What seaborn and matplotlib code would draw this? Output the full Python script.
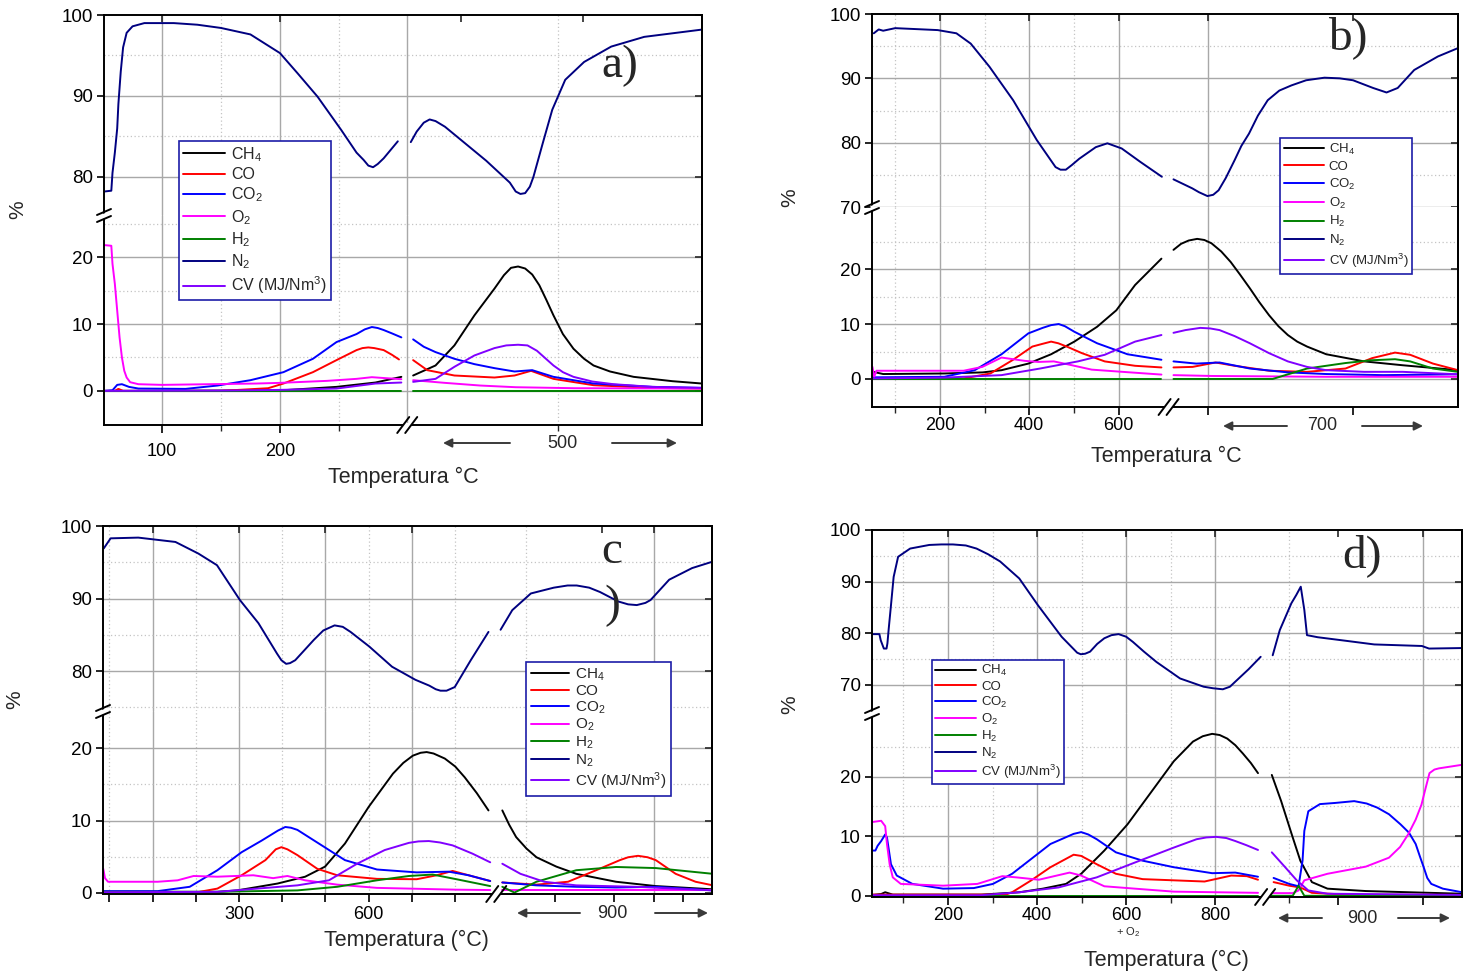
import numpy as np
import pandas as pd
import matplotlib
matplotlib.use("Agg")
import matplotlib.pyplot as plt
import seaborn as sns
from matplotlib.lines import Line2D
from matplotlib.patches import Polygon

# ---------------- data ----------------
SERIES = ["CH4", "CO", "CO2", "O2", "H2", "N2", "CV"]
LABELS = ["CH$_4$", "CO", "CO$_2$", "O$_2$", "H$_2$", "N$_2$", "CV (MJ/Nm$^3$)"]
COLORS = ["#000000", "#ff0000", "#0000ff", "#ff00ff", "#008000", "#000080", "#8000ff"]

# panel a
A_CH4_X = [51, 150, 203, 248, 281, 303, 313, 332, 348, 365, 382, 390, 396, 402, 408, 414, 420, 426, 432, 440, 449, 458, 466, 480, 500, 533, 558]
A_CH4_Y = [0.0, 0.05, 0.1, 0.6, 1.25, 2.1, 2.3, 3.8, 6.8, 11.3, 15.3, 17.3, 18.4, 18.6, 18.3, 17.4, 15.8, 13.6, 11.3, 8.5, 6.3, 4.8, 3.8, 2.9, 2.1, 1.45, 1.1]
A_CO_X = [51, 60, 63, 67, 150, 190, 203, 228, 248, 265, 270, 275, 280, 288, 295, 301, 313, 325, 348, 382, 399, 413, 432, 466, 516, 558]
A_CO_Y = [0.0, 0.0, 0.3, 0.0, 0.0, 0.4, 1.1, 2.8, 4.6, 6.1, 6.4, 6.5, 6.4, 6.1, 5.4, 4.7, 4.6, 3.1, 2.3, 2.0, 2.3, 3.0, 1.8, 0.85, 0.45, 0.35]
A_CO2_X = [51, 58, 62, 66, 72, 80, 120, 147, 175, 203, 228, 248, 265, 272, 278, 283, 288, 295, 303, 313, 322, 332, 348, 365, 382, 399, 414, 432, 466, 516, 558]
A_CO2_Y = [0.0, 0.1, 0.9, 1.0, 0.6, 0.35, 0.3, 0.8, 1.6, 2.8, 4.8, 7.3, 8.5, 9.2, 9.55, 9.4, 9.1, 8.6, 8.0, 7.7, 6.6, 5.8, 4.8, 4.0, 3.4, 2.9, 3.1, 2.1, 1.1, 0.6, 0.45]
A_O2_X = [51, 57, 58, 60, 62, 64, 66, 68, 70, 73, 80, 100, 140, 180, 200, 240, 265, 278, 290, 303, 313, 340, 370, 400, 450, 558]
A_O2_Y = [21.8, 21.7, 19.0, 16.0, 12.0, 8.0, 5.0, 3.0, 2.0, 1.3, 1.0, 0.9, 1.0, 1.1, 1.2, 1.5, 1.8, 2.05, 1.9, 1.75, 1.6, 1.2, 0.8, 0.55, 0.4, 0.35]
A_H2_X = [51, 303, 313, 558]
A_H2_Y = [0.0, 0.0, 0.0, 0.0]
A_N2_X = [51, 57, 58, 60, 62, 63, 65, 67, 70, 75, 85, 110, 130, 150, 175, 200, 215, 232, 252, 265,
          271, 275, 279, 283, 288, 300, 311, 316, 322, 327, 332, 340, 350, 375, 395, 400, 404, 408, 412, 415,
          423, 431, 442, 458, 481, 509, 558]
A_N2_Y = [78.2, 78.3, 80.5, 83.0, 86.0, 89.0, 93.0, 96.0, 97.8, 98.6, 99.0, 99.0, 98.8, 98.4, 97.6, 95.3, 92.8, 89.9, 85.8, 83.0,
          82.1, 81.4, 81.2, 81.6, 82.3, 84.4, 84.3, 85.6, 86.7, 87.1, 86.9, 86.2, 85.0, 82.0, 79.3, 78.2, 77.9, 78.0, 78.8, 80.0,
          84.2, 88.3, 92.0, 94.2, 96.1, 97.3, 98.2]
A_CV_X = [51, 150, 200, 248, 281, 303, 313, 332, 348, 365, 382, 392, 402, 410, 418, 425, 432, 440, 449, 465, 483, 516, 558]
A_CV_Y = [0.0, 0.05, 0.15, 0.35, 1.1, 1.25, 1.35, 1.8, 3.6, 5.3, 6.4, 6.8, 6.9, 6.8, 6.0, 4.9, 3.8, 2.8, 2.1, 1.4, 1.0, 0.6, 0.45]

# panel b
B_CH4_X = [49, 73, 210, 296, 338, 398, 449, 501, 552, 595, 637, 696, 723, 740, 757, 776, 792, 808, 830, 851,
           872, 894, 915, 937, 958, 979, 1000, 1022, 1065, 1150, 1236, 1360]
B_CH4_Y = [1.33, 0.9, 1.0, 1.2, 1.6, 2.8, 4.5, 6.8, 9.5, 12.5, 17.1, 21.9, 23.5, 24.6, 25.2, 25.5, 25.3, 24.7, 23.2, 21.3,
           19.0, 16.5, 14.0, 11.6, 9.6, 8.0, 6.8, 5.9, 4.5, 3.2, 2.5, 1.6]
B_CO_X = [49, 253, 313, 364, 407, 430, 449, 465, 484, 518, 569, 637, 696, 723, 766, 817, 860, 937, 1022, 1108, 1168, 1219, 1253, 1304, 1360]
B_CO_Y = [0.1, 0.1, 1.0, 3.5, 5.9, 6.4, 6.8, 6.5, 5.9, 4.7, 3.2, 2.4, 2.1, 2.1, 2.2, 3.0, 2.4, 1.5, 1.3, 1.9, 3.8, 4.8, 4.4, 2.8, 1.6]
B_CO2_X = [49, 210, 278, 338, 398, 430, 449, 466, 480, 501, 552, 620, 696, 723, 774, 826, 894, 979, 1065, 1193, 1360]
B_CO2_Y = [0.3, 0.4, 1.6, 4.5, 8.3, 9.3, 9.8, 10.0, 9.6, 8.6, 6.5, 4.5, 3.5, 3.2, 2.8, 3.0, 1.9, 1.2, 0.9, 0.7, 0.85]
B_O2_X = [49, 53, 58, 253, 295, 338, 390, 420, 455, 490, 540, 600, 696, 723, 808, 1065, 1360]
B_O2_Y = [2.2, 0.4, 1.5, 1.5, 2.2, 3.9, 3.3, 3.1, 3.2, 2.6, 1.7, 1.35, 0.8, 0.7, 0.55, 0.4, 0.4]
B_H2_X = [49, 696, 723, 945, 1022, 1108, 1165, 1219, 1253, 1304, 1360]
B_H2_Y = [0.0, 0.0, 0.0, 0.0, 1.9, 2.9, 3.4, 3.6, 3.2, 1.9, 1.3]
B_N2_X = [52, 63, 73, 100, 195, 237, 269, 311, 364, 417, 459, 470, 482, 495, 512, 549, 575, 607, 649, 697,
          723, 765, 780, 799, 812, 824, 840, 860, 875, 892, 912, 934, 960, 987, 1020, 1061, 1095, 1125, 1170, 1200,
          1225, 1262, 1315, 1360]
B_N2_Y = [97.0, 97.6, 97.4, 97.8, 97.5, 97.0, 95.4, 91.8, 86.6, 80.4, 76.2, 75.8, 75.8, 76.5, 77.5, 79.3, 79.9, 79.1, 77.0, 74.7,
          74.3, 72.9, 72.3, 71.7, 71.9, 72.6, 74.5, 77.3, 79.5, 81.4, 84.2, 86.6, 88.1, 88.9, 89.7, 90.1, 90.0, 89.7, 88.5, 87.8,
          88.5, 91.3, 93.4, 94.7]
B_CV_X = [49, 210, 338, 424, 509, 569, 637, 696, 723, 750, 783, 805, 826, 860, 894, 937, 979, 1022, 1065, 1150, 1236, 1360]
B_CV_Y = [0.1, 0.25, 0.7, 1.9, 3.2, 4.4, 6.8, 8.0, 8.4, 8.9, 9.3, 9.2, 8.9, 7.8, 6.5, 4.7, 3.2, 2.2, 1.6, 1.3, 1.3, 0.85]

# panel c
C_CH4_X = [-13, 250, 296, 389, 453, 499, 545, 600, 656, 680, 702, 720, 734, 750, 776, 800, 822, 850, 877, 909,
           925, 941, 965, 988, 1034, 1080, 1172, 1264, 1396]
C_CH4_Y = [0.1, 0.1, 0.3, 1.25, 2.2, 3.6, 6.8, 11.9, 16.5, 18.0, 19.0, 19.4, 19.5, 19.3, 18.6, 17.5, 16.0, 13.8, 11.4, 11.4,
           9.4, 7.7, 6.1, 4.9, 3.6, 2.6, 1.5, 0.9, 0.45]
C_CO_X = [-13, 204, 250, 306, 361, 385, 398, 412, 435, 481, 527, 619, 711, 757, 794, 831, 881, 909, 988, 1061,
          1126, 1181, 1200, 1223, 1245, 1264, 1310, 1356, 1396]
C_CO_Y = [0.05, 0.05, 0.55, 2.4, 4.5, 6.0, 6.3, 6.0, 5.2, 3.3, 2.4, 1.9, 1.85, 2.4, 3.0, 2.4, 1.6, 1.4, 1.1, 1.5,
          3.1, 4.5, 4.9, 5.1, 4.9, 4.5, 2.6, 1.5, 1.0]
C_CO2_X = [-13, 112, 186, 250, 306, 352, 390, 407, 420, 435, 490, 545, 619, 711, 785, 831, 881, 909, 988, 1080, 1172, 1264, 1396]
C_CO2_Y = [0.2, 0.2, 0.8, 3.1, 5.6, 7.2, 8.6, 9.1, 9.0, 8.7, 6.6, 4.5, 3.2, 2.8, 2.9, 2.4, 1.6, 1.4, 1.0, 0.8, 0.7, 0.8, 0.3]
C_O2_X = [-14, -10, -3, 112, 158, 195, 250, 333, 379, 412, 453, 527, 619, 803, 881, 909, 1396]
C_O2_Y = [3.3, 2.0, 1.5, 1.5, 1.7, 2.3, 2.2, 2.4, 2.0, 2.3, 1.7, 1.1, 0.65, 0.4, 0.35, 0.35, 0.35]
C_H2_X = [-13, 250, 435, 527, 619, 693, 748, 803, 881, 909, 937, 988, 1080, 1172, 1264, 1396]
C_H2_Y = [0.1, 0.1, 0.3, 0.8, 1.7, 2.3, 2.5, 1.85, 0.9, 0.8, 0.0, 1.5, 3.1, 3.55, 3.4, 2.6]
C_N2_X = [-13, 3, 67, 153, 206, 249, 302, 345, 388, 398, 409, 418, 430, 450, 473, 495, 521, 540, 558, 601,
          654, 708, 740, 755, 766, 780, 799, 836, 877, 905, 932, 975, 1028, 1060, 1081, 1110, 1135, 1177, 1200, 1220,
          1240, 1252, 1295, 1348, 1396]
C_N2_Y = [96.9, 98.3, 98.4, 97.8, 96.2, 94.6, 89.8, 86.6, 82.4, 81.5, 81.0, 81.1, 81.5, 82.8, 84.3, 85.6, 86.3, 86.1, 85.4, 83.4,
          80.6, 78.8, 78.0, 77.5, 77.3, 77.3, 77.8, 81.5, 85.4, 85.7, 88.4, 90.7, 91.5, 91.8, 91.8, 91.5, 90.9, 89.6, 89.2, 89.1,
          89.4, 89.8, 92.6, 94.2, 95.1]
C_CV_X = [-13, 250, 342, 435, 508, 573, 637, 693, 715, 739, 765, 794, 840, 881, 909, 951, 1006, 1080, 1218, 1396]
C_CV_Y = [0.05, 0.1, 0.55, 1.0, 1.7, 4.0, 5.9, 6.9, 7.1, 7.15, 6.95, 6.55, 5.4, 4.2, 4.0, 2.6, 1.5, 1.0, 0.8, 0.3]

# panel d
D_CH4_X = [31, 50, 59, 76, 275, 361, 413, 465, 499, 551, 603, 655, 707, 750, 772, 793, 810, 827, 845, 862,
           880, 896, 927, 948, 974, 991, 1017, 1052, 1138, 1354]
D_CH4_Y = [0.15, 0.3, 0.6, 0.2, 0.2, 0.6, 1.2, 2.0, 3.7, 7.6, 12.0, 17.3, 22.6, 25.9, 26.8, 27.2, 27.0, 26.4, 25.3, 23.9,
           22.3, 20.6, 20.3, 15.9, 9.8, 5.9, 2.3, 1.2, 0.8, 0.35]
D_CO_X = [31, 330, 344, 387, 430, 482, 499, 534, 577, 637, 707, 776, 836, 871, 896, 931, 966, 991, 1017, 1095, 1354]
D_CO_Y = [0.2, 0.2, 0.6, 2.6, 4.8, 6.9, 6.7, 5.3, 3.7, 2.8, 2.6, 2.4, 3.4, 3.3, 2.7, 2.3, 1.7, 1.4, 0.5, 0.2, 0.15]
D_CO2_X = [31, 37, 42, 50, 59, 63, 72, 85, 120, 189, 258, 301, 344, 387, 430, 482, 499, 515, 534, 577,
           637, 707, 793, 845, 896, 931, 966, 987, 996, 1000, 1009, 1035, 1070, 1112, 1140, 1164, 1190, 1216, 1235, 1250,
           1260, 1268, 1276, 1285, 1311, 1354]
D_CO2_Y = [7.6, 7.6, 8.4, 9.2, 10.3, 9.8, 5.3, 3.4, 2.0, 1.2, 1.3, 2.0, 3.7, 6.2, 8.7, 10.4, 10.7, 10.3, 9.5, 7.3,
           5.9, 4.8, 3.8, 3.9, 3.2, 3.0, 2.0, 1.6, 5.9, 10.9, 14.2, 15.4, 15.6, 15.9, 15.5, 14.8, 13.7, 12.0, 10.6, 8.7,
           6.5, 4.8, 3.0, 2.0, 1.2, 0.6]
D_O2_X = [31, 50, 59, 63, 69, 76, 94, 189, 266, 322, 353, 404, 473, 499, 551, 620, 707, 896, 931, 974,
          987, 1000, 1052, 1138, 1190, 1215, 1233, 1250, 1263, 1272, 1281, 1292, 1302, 1354]
D_O2_Y = [12.4, 12.6, 11.7, 8.7, 5.3, 3.1, 2.0, 1.7, 2.0, 3.3, 3.1, 2.7, 3.9, 3.4, 1.6, 1.2, 0.7, 0.5, 0.45, 0.45,
          0.9, 2.6, 3.7, 4.9, 6.4, 8.2, 10.3, 12.8, 15.3, 18.0, 20.6, 21.2, 21.4, 22.0]
D_H2_X = [31, 896, 927, 974, 987, 1000, 1354]
D_H2_Y = [0.0, 0.0, 0.0, 0.0, 1.7, 0.0, 0.0]
D_N2_X = [31, 46, 49, 56, 62, 64, 67, 72, 78, 88, 115, 158, 185, 211, 240, 264, 290, 317, 360, 402,
          455, 490, 498, 508, 519, 535, 551, 567, 583, 600, 615, 640, 668, 721, 774, 795, 817, 833, 849, 875,
          902, 929, 945, 971, 982, 992, 1000, 1006, 1030, 1094, 1157, 1264, 1280, 1354]
D_N2_Y = [79.8, 79.8, 78.6, 77.0, 77.0, 78.0, 80.9, 85.4, 90.9, 94.8, 96.4, 97.1, 97.2, 97.2, 97.0, 96.4, 95.3, 93.9, 90.6, 85.4,
          79.3, 76.2, 75.9, 76.0, 76.4, 77.9, 79.0, 79.6, 79.8, 79.3, 78.3, 76.4, 74.4, 71.2, 69.6, 69.3, 69.1, 69.6, 70.9, 73.0,
          75.4, 75.7, 80.6, 85.8, 87.4, 89.0, 84.5, 79.6, 79.2, 78.5, 77.8, 77.5, 77.0, 77.1]
D_CV_X = [31, 275, 361, 448, 534, 620, 707, 758, 780, 802, 825, 845, 870, 896, 927, 957, 983, 1009, 1052, 1354]
D_CV_Y = [0.1, 0.1, 0.6, 1.4, 3.1, 5.6, 8.1, 9.5, 9.8, 9.9, 9.7, 9.2, 8.5, 7.7, 7.3, 4.8, 2.6, 0.9, 0.35, 0.15]

# ---------------- style ----------------
sns.set_theme(style="ticks")
plt.rcParams["font.family"] = ["Liberation Sans", "DejaVu Sans"]
plt.rcParams["mathtext.fontset"] = "custom"
plt.rcParams["mathtext.rm"] = "Liberation Sans"
plt.rcParams["mathtext.it"] = "Liberation Sans:italic"
plt.rcParams["mathtext.default"] = "regular"

W, H = 1468, 972
fig = plt.figure(figsize=(W / 100, H / 100), dpi=100)
fig.patch.set_facecolor("white")

SOLID = dict(color="#a8a8a8", lw=1.0, zorder=0)
DOT = dict(color="#c4c4c4", lw=0.9, ls=(0, (1, 2)), zorder=0)


def fx(px):
    return px / W


def fy(py):
    return 1 - py / H


def make_df(pairs, brk):
    rows = []
    for name, (xs, ys) in zip(SERIES, pairs):
        for x, y in zip(xs, ys):
            rows.append((name, f"{name}_{int(x > brk)}", x, y))
    return pd.DataFrame(rows, columns=["series", "unit", "x", "y"])


def add_ax(l, t, r, b):
    return fig.add_axes([fx(l), fy(b), (r - l) / W, (b - t) / H])


def draw_panel(P):
    l, t, r, b = P["box"]
    by = P["brk_y"]
    ax_u = add_ax(l, t, r, by)
    ax_l = add_ax(l, by, r, b)
    df = make_df(P["data"], P["brk_x"])
    pal = dict(zip(SERIES, COLORS))
    for ax, ylim in ((ax_u, P["ylim_up"]), (ax_l, P["ylim_low"])):
        sns.lineplot(data=df, x="x", y="y", hue="series", units="unit", estimator=None,
                     palette=pal, hue_order=SERIES, legend=False, lw=1.4, ax=ax)
        ax.set_xlim(*P["xlim"])
        ax.set_ylim(*ylim)
        ax.set_xlabel("")
        ax.set_ylabel("")
        for v in P["xgrid"][0]:
            ax.axvline(v, **SOLID)
        for v in P["xgrid"][1]:
            ax.axvline(v, **DOT)
        for s in ax.spines.values():
            s.set_color("black")
            s.set_linewidth(1.4)
        ax.tick_params(axis="y", which="both", direction="out", length=5, width=1.2,
                       labelsize=13.5, colors="black", pad=3)
    for v in P["ygrid_up"][0]:
        ax_u.axhline(v, **SOLID)
    for v in P["ygrid_up"][1]:
        ax_u.axhline(v, **DOT)
    for v in P["ygrid_low"][0]:
        ax_l.axhline(v, **SOLID)
    for v in P["ygrid_low"][1]:
        ax_l.axhline(v, **DOT)
    ax_u.spines["bottom"].set_visible(False)
    ax_l.spines["top"].set_visible(False)
    ax_u.set_yticks(P["yt_up"])
    ax_l.set_yticks(P["yt_low"])
    ax_u.set_yticklabels([str(v) for v in P["yt_up"]])
    ax_l.set_yticklabels([str(v) for v in P["yt_low"]])
    ax_u.set_xticks(P["xtop"])
    ax_u.tick_params(axis="x", which="both", bottom=False, top=True, direction="in",
                     labelbottom=False, length=5, width=1.2)
    ax_l.set_xticks(P["xmaj"])
    ax_l.set_xticklabels(P["xlab"])
    ax_l.set_xticks(P["xmin"], minor=True)
    ax_l.tick_params(axis="x", which="major", direction="out", length=6, width=1.2,
                     labelsize=13, pad=P["xpad"], colors="black")
    ax_l.tick_params(axis="x", which="minor", direction="out", length=4, width=1.0)
    for ax in (ax_u, ax_l):
        sec = ax.secondary_yaxis("right")
        sec.set_yticks(ax.get_yticks())
        sec.tick_params(direction="in", length=5, width=1.2, labelright=False)
        sec.spines["right"].set_linewidth(1.4)
        sec.spines["right"].set_color("black")

    # legend
    handles = [Line2D([], [], color=c, lw=1.4) for c in COLORS]
    lg = P["legend"]
    leg = ax_l.legend(handles, LABELS, loc="upper left", bbox_to_anchor=(fx(lg["x"]), fy(lg["y"])),
                      bbox_transform=fig.transFigure, borderaxespad=0, frameon=True, fancybox=False,
                      framealpha=1, edgecolor="#1c1ca8", fontsize=lg["fs"], labelspacing=lg["ls"],
                      handlelength=lg["hl"], handletextpad=0.4, borderpad=lg["bp"])
    leg.get_frame().set_linewidth(1.2)
    leg.set_zorder(20)

    # break marks on the left spine
    for y0 in (by - 3, by + 4):
        fig.add_artist(Line2D([fx(l - 7), fx(l + 7)], [fy(y0 + 3), fy(y0 - 3)], color="black", lw=1.4, zorder=30))
    fig.add_artist(Polygon([(fx(l - 1.5), fy(by - 1)), (fx(l + 1.5), fy(by - 2)), (fx(l + 1.5), fy(by + 3)),
                            (fx(l - 1.5), fy(by + 4))], closed=True, facecolor="white", edgecolor="none", zorder=29))
    # break marks on the bottom spine
    bx = ax_l.transData.transform((P["brk_x"], 0))[0]
    for dx in (-4, 4):
        fig.add_artist(Line2D([fx(bx + dx - 6), fx(bx + dx + 6)], [fy(b + 8), fy(b - 8)], color="black", lw=1.4, zorder=30))
    fig.add_artist(Polygon([(fx(bx - 4), fy(b - 2)), (fx(bx + 4), fy(b - 2)), (fx(bx + 4), fy(b + 2)),
                            (fx(bx - 4), fy(b + 2))], closed=True, facecolor="white", edgecolor="none", zorder=29))

    # arrows and hold-temperature label
    ay = P["arrow_y"]
    for tail, head in P["arrows"]:
        ax_l.annotate("", xy=(head, H - ay), xytext=(tail, H - ay), xycoords="figure pixels",
                      textcoords="figure pixels",
                      arrowprops=dict(arrowstyle="-|>", color="#3a3a3a", lw=1.4, mutation_scale=13,
                                      shrinkA=0, shrinkB=0))
    fig.text(fx(P["hold_x"]), fy(ay), P["hold"], ha="center", va="center", fontsize=13)

    fig.text(fx(P["pct"][0]), fy(P["pct"][1]), "%", rotation=90, ha="center", va="center", fontsize=15)
    fig.text(fx(P["xl"][0]), fy(P["xl"][1]), P["xl_text"], ha="center", va="center", fontsize=15.5)
    for txt, (px_, py_) in P["letter"]:
        fig.text(fx(px_), fy(py_), txt, ha="center", va="center", fontsize=34,
                 family=["Liberation Serif", "DejaVu Serif"])
    return ax_u, ax_l


PANELS = [
    dict(box=(104, 15, 702, 425), brk_y=215, ylim_up=(75.3, 100), ylim_low=(-5.1, 26.3),
         xlim=(50.8, 558), brk_x=308,
         data=[(A_CH4_X, A_CH4_Y), (A_CO_X, A_CO_Y), (A_CO2_X, A_CO2_Y), (A_O2_X, A_O2_Y),
               (A_H2_X, A_H2_Y), (A_N2_X, A_N2_Y), (A_CV_X, A_CV_Y)],
         yt_up=[80, 90, 100], yt_low=[0, 10, 20],
         ygrid_up=([80, 90], [85, 95]), ygrid_low=([0, 10, 20], [5, 15, 25]),
         xgrid=([100, 200, 308], [150, 250, 436]),
         xtop=[100, 200, 354, 457], xmaj=[100, 200], xlab=["100", "200"], xmin=[150, 250, 436], xpad=7,
         legend=dict(x=179, y=141, fs=11.5, ls=0.22, hl=2.6, bp=0.25),
         arrows=[(510, 443), (612, 677)], arrow_y=443, hold="500", hold_x=562,
         pct=(18, 210), xl=(403, 477), xl_text="Temperatura °C", letter=[("a)", (620, 66))]),
    dict(box=(872, 14, 1458, 407), brk_y=207, ylim_up=(70, 100), ylim_low=(-5.1, 31.3),
         xlim=(48, 1360), brk_x=712,
         data=[(B_CH4_X, B_CH4_Y), (B_CO_X, B_CO_Y), (B_CO2_X, B_CO2_Y), (B_O2_X, B_O2_Y),
               (B_H2_X, B_H2_Y), (B_N2_X, B_N2_Y), (B_CV_X, B_CV_Y)],
         yt_up=[70, 80, 90, 100], yt_low=[0, 10, 20],
         ygrid_up=([70, 80, 90], [75, 85, 95]), ygrid_low=([0, 10, 20], [5, 15, 25]),
         xgrid=([200, 400, 600, 800], [100, 300, 500]),
         xtop=[200, 400, 600, 800, 1125], xmaj=[200, 400, 600, 800, 1125], xlab=["200", "400", "600", "", ""],
         xmin=[100, 300, 500], xpad=1.5,
         legend=dict(x=1280, y=138, fs=9.5, ls=0.28, hl=3.0, bp=0.3),
         arrows=[(1287, 1223), (1362, 1423)], arrow_y=426, hold="700", hold_x=1322,
         pct=(790, 198), xl=(1166, 456), xl_text="Temperatura °C", letter=[("b)", (1348, 38))]),
    dict(box=(103, 526, 712, 894), brk_y=711, ylim_up=(74.5, 100), ylim_low=(-0.2, 25.2),
         xlim=(-14.6, 1394), brk_x=895,
         data=[(C_CH4_X, C_CH4_Y), (C_CO_X, C_CO_Y), (C_CO2_X, C_CO2_Y), (C_O2_X, C_O2_Y),
               (C_H2_X, C_H2_Y), (C_N2_X, C_N2_Y), (C_CV_X, C_CV_Y)],
         yt_up=[80, 90, 100], yt_low=[0, 10, 20],
         ygrid_up=([80, 90], [75, 85, 95]), ygrid_low=([10, 20], [5, 15]),
         xgrid=([100, 300, 500, 700, 1261], [0, 200, 400, 600, 800, 964]),
         xtop=[100, 300, 500, 700, 1140, 1261],
         xmaj=[0, 100, 200, 300, 400, 500, 600, 700, 800, 1030, 1167, 1261, 1327],
         xlab=["", "", "", "300", "", "", "600", "", "", "", "", "", ""], xmin=[], xpad=2.5,
         legend=dict(x=526, y=662, fs=11, ls=0.08, hl=2.5, bp=0.3),
         arrows=[(580, 517), (655, 708)], arrow_y=913, hold="900", hold_x=612,
         pct=(15, 700), xl=(406, 940), xl_text="Temperatura (°C)",
         letter=[("c", (612, 552)), (")", (612, 606))]),
    dict(box=(872, 530, 1462, 897), brk_y=713, ylim_up=(64.5, 100), ylim_low=(-0.2, 30.7),
         xlim=(29.4, 1354), brk_x=912,
         data=[(D_CH4_X, D_CH4_Y), (D_CO_X, D_CO_Y), (D_CO2_X, D_CO2_Y), (D_O2_X, D_O2_Y),
               (D_H2_X, D_H2_Y), (D_N2_X, D_N2_Y), (D_CV_X, D_CV_Y)],
         yt_up=[70, 80, 90, 100], yt_low=[0, 10, 20],
         ygrid_up=([70, 80, 90], [75, 85, 95]), ygrid_low=([10, 20], [5, 15, 25]),
         xgrid=([200, 400, 600, 800, 1266], [100, 300, 500, 700, 965]),
         xtop=[200, 400, 600, 800, 1075, 1266], xmaj=[200, 400, 600, 800, 1075, 1266],
         xlab=["200", "400", "600", "800", "", ""], xmin=[100, 300, 500, 700, 965], xpad=1.5,
         legend=dict(x=932, y=660, fs=9.5, ls=0.15, hl=3.1, bp=0.25),
         arrows=[(1322, 1278), (1398, 1450)], arrow_y=918, hold="900", hold_x=1362,
         pct=(790, 705), xl=(1166, 960), xl_text="Temperatura (°C)", letter=[("d)", (1362, 556))]),
]

for P in PANELS:
    draw_panel(P)

fig.text(fx(1128), fy(932), "+ O$_2$", ha="center", va="center", fontsize=8)

fig.savefig("out.png", dpi=100, facecolor="white")
